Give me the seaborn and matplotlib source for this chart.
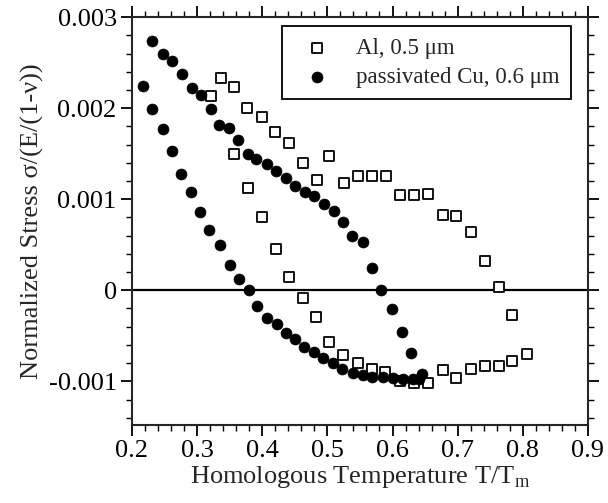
import matplotlib
matplotlib.use("Agg")
import matplotlib.pyplot as plt
import seaborn as sns
import numpy as np
import pandas as pd
from matplotlib.ticker import MultipleLocator

# stress values are read in units of 1e-3
stress_unit = 1e-3

# Al film, 0.5 um (open squares)
al_temp = [0.321, 0.336, 0.357, 0.377, 0.399, 0.420, 0.441, 0.462, 0.484, 0.503,
           0.525, 0.547, 0.569, 0.590, 0.611, 0.633, 0.655, 0.678, 0.698, 0.720,
           0.742, 0.763, 0.784, 0.807,
           0.357, 0.378, 0.399, 0.421, 0.441, 0.462, 0.483, 0.503, 0.524, 0.547,
           0.568, 0.588, 0.611, 0.633, 0.655, 0.677, 0.698, 0.720, 0.742, 0.763,
           0.784]
al_stress = [2.13, 2.33, 2.23, 2.00, 1.90, 1.74, 1.62, 1.40, 1.21, 1.47,
             1.18, 1.26, 1.25, 1.26, 1.05, 1.05, 1.06, 0.83, 0.82, 0.64,
             0.32, 0.04, -0.27, -0.70,
             1.50, 1.12, 0.81, 0.45, 0.15, -0.085, -0.29, -0.57, -0.71, -0.80,
             -0.87, -0.90, -1.00, -1.02, -1.02, -0.88, -0.96, -0.87, -0.83, -0.83,
             -0.78]

# passivated Cu film, 0.6 um (filled circles)
cu_temp = [0.231, 0.247, 0.262, 0.277, 0.292, 0.306, 0.321, 0.334, 0.349, 0.363,
           0.378, 0.391, 0.407, 0.421, 0.436, 0.450, 0.465, 0.479, 0.495, 0.510,
           0.524, 0.538, 0.554, 0.568, 0.583, 0.599, 0.614, 0.629, 0.645,
           0.217, 0.231, 0.247, 0.262, 0.276, 0.291, 0.304, 0.319, 0.335, 0.350,
           0.364, 0.379, 0.392, 0.407, 0.422, 0.436, 0.450, 0.464, 0.479, 0.494,
           0.509, 0.523, 0.539, 0.554, 0.569, 0.585, 0.600, 0.616, 0.631, 0.640]
cu_stress = [2.74, 2.60, 2.52, 2.37, 2.22, 2.15, 1.99, 1.82, 1.78, 1.65,
             1.50, 1.44, 1.39, 1.31, 1.23, 1.15, 1.08, 1.03, 0.95, 0.87,
             0.75, 0.60, 0.53, 0.24, 0.00, -0.21, -0.46, -0.69, -0.92,
             2.24, 1.99, 1.77, 1.53, 1.28, 1.08, 0.86, 0.66, 0.50, 0.28,
             0.12, 0.00, -0.17, -0.30, -0.37, -0.47, -0.53, -0.62, -0.68, -0.74,
             -0.80, -0.86, -0.91, -0.93, -0.95, -0.955, -0.96, -0.97, -0.97, -0.97]

al = pd.DataFrame({"T": al_temp, "stress": np.array(al_stress) * stress_unit})
cu = pd.DataFrame({"T": cu_temp, "stress": np.array(cu_stress) * stress_unit})

sns.set_style("ticks")
plt.rcParams["font.family"] = ["Liberation Serif", "DejaVu Serif"]
plt.rcParams["mathtext.fontset"] = "custom"
plt.rcParams["mathtext.rm"] = "Liberation Serif"

fig = plt.figure(figsize=(6.08, 5.03), dpi=100)
ax = fig.add_axes([0.217, 0.155, 0.75, 0.811])

ax.axhline(0, color="black", lw=1.6, zorder=1)

sns.scatterplot(data=al, x="T", y="stress", ax=ax, marker="s", s=50,
                facecolor="white", edgecolor="black", linewidth=1.3,
                label="Al, 0.5 \u03bcm", zorder=2)
sns.scatterplot(data=cu, x="T", y="stress", ax=ax, marker="o", s=62,
                color="black", edgecolor="black", linewidth=0.5,
                label="passivated Cu, 0.6 \u03bcm", zorder=3)

ax.set_xlim(0.2, 0.9)
ax.set_ylim(-0.00148, 0.003)
ax.xaxis.set_major_locator(MultipleLocator(0.1))
ax.xaxis.set_minor_locator(MultipleLocator(0.02))
ax.yaxis.set_major_locator(MultipleLocator(0.001))
ax.yaxis.set_minor_locator(MultipleLocator(0.0002))
ax.set_yticks([-0.001, 0, 0.001, 0.002, 0.003])
ax.set_yticklabels(["-0.001", "0", "0.001", "0.002", "0.003"])
ax.set_xticklabels([f"{v:.1f}" for v in ax.get_xticks()])

for side in ["top", "right", "bottom", "left"]:
    ax.spines[side].set_visible(True)
    ax.spines[side].set_linewidth(1.5)
ax.tick_params(which="both", direction="out", top=True, right=True,
               labeltop=False, labelright=False, colors="black", labelsize=19)
ax.tick_params(which="major", length=8, width=1.3, pad=3)
ax.tick_params(which="minor", length=4, width=1.0)

ax.set_xlabel(r"Homologous Temperature T/T$_\mathregular{m}$", fontsize=19, labelpad=1)
ax.set_ylabel("Normalized Stress \u03c3/(E/(1-\u03bd))", fontsize=19, labelpad=3)

leg = ax.legend(loc="upper right", bbox_to_anchor=(0.962, 0.978), fontsize=16.5,
                frameon=True, fancybox=False, framealpha=1, edgecolor="black",
                handletextpad=0.7, borderpad=0.5, labelspacing=0.35,
                borderaxespad=0.0)
leg.get_frame().set_linewidth(1.3)

fig.savefig("out.png", dpi=100)
